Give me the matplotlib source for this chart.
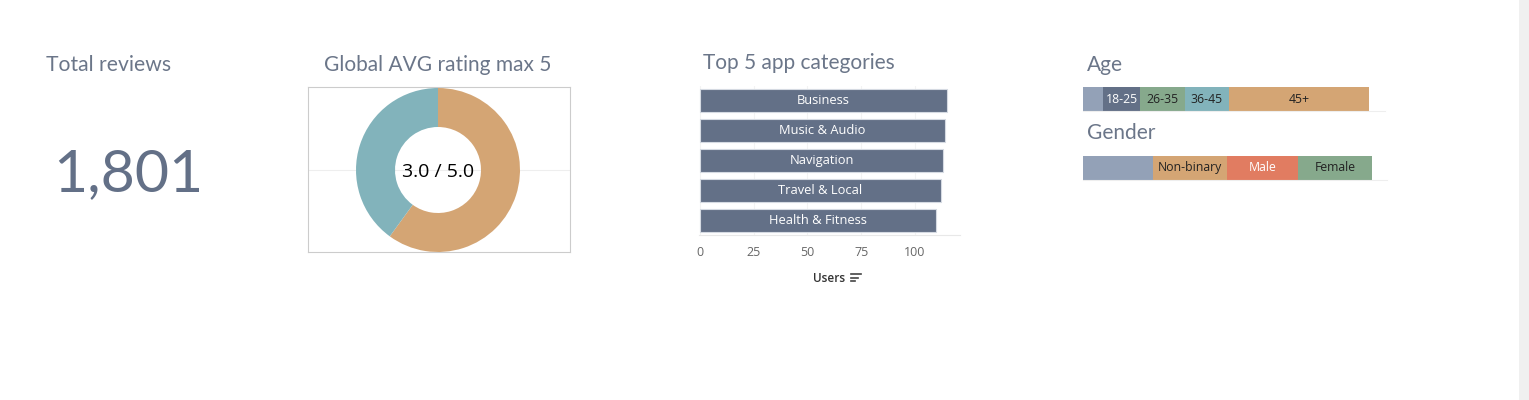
import numpy as np
import matplotlib
matplotlib.use("Agg")
import matplotlib.pyplot as plt
from matplotlib.patches import Rectangle

plt.rcParams["font.family"] = ["Open Sans", "DejaVu Sans"]

# --- data ---
total_reviews = 1801
rating_avg = 3.0
rating_max = 5.0

categories = ["Business", "Music & Audio", "Navigation", "Travel & Local", "Health & Fitness"]
category_users = [115, 114, 113, 112, 110]
user_ticks = [0, 25, 50, 75, 100]

age_groups = ["", "18-25", "26-35", "36-45", "45+"]
age_counts = [126, 233, 283, 277, 882]

gender_groups = ["", "Non-binary", "Male", "Female"]
gender_counts = [441, 466, 447, 466]
# ------------

W, H = 1529, 400
TITLE_C = "#6b7689"
SLATE = "#637087"
GREYBLUE = "#93a1b7"
GREEN = "#86a98c"
TEAL = "#82b3bb"
ORANGE = "#d4a574"
CORAL = "#e17c61"
TFONT = dict(family=["Lato", "Open Sans", "DejaVu Sans"], fontweight="normal")

fig = plt.figure(figsize=(W / 100, H / 100), dpi=100)
fig.patch.set_facecolor("white")


def px_axes(x0, y0, x1, y1):
    return fig.add_axes([x0 / W, 1 - y1 / H, (x1 - x0) / W, (y1 - y0) / H])


def ftext(x, y, s, **kw):
    fig.text(x / W, 1 - y / H, s, **kw)


# scrollbar strip on the right
fig.patches.append(Rectangle(((W - 10) / W, 0), 10 / W, 1, transform=fig.transFigure,
                             facecolor="#f0f0f0", edgecolor="none"))

# --- KPI ---
ftext(46, 65, "Total reviews", fontsize=15.2, color=TITLE_C, va="center", **TFONT)
ftext(128, 175, f"{total_reviews:,}", fontsize=42.5, color=SLATE, ha="center", va="center", **TFONT)

# --- donut ---
ftext(438, 65, "Global AVG rating max 5", fontsize=15, color=TITLE_C, ha="center", va="center", **TFONT)
box = px_axes(308, 87, 570, 252)
box.set_xticks([])
box.set_yticks([])
for s in box.spines.values():
    s.set_color("#cccccc")
    s.set_linewidth(0.8)
box.axhline(0.5, color="#eeeeee", lw=0.8)
box.set_xlim(0, 1)
box.set_ylim(0, 1)

pie_ax = px_axes(438 - 82, 170 - 82, 438 + 82, 170 + 82)
pie_ax.pie([rating_avg, rating_max - rating_avg], colors=[ORANGE, TEAL], startangle=90,
           counterclock=False, wedgeprops=dict(width=39 / 82, linewidth=0))
pie_ax.set_xlim(-1, 1)
pie_ax.set_ylim(-1, 1)
pie_ax.set_aspect("equal")
pie_ax.axis("off")
pie_ax.text(0, -0.02, f"{rating_avg:.1f} / {rating_max:.1f}", ha="center", va="center",
            fontsize=14, color="black")

# --- top categories ---
ftext(703, 63, "Top 5 app categories", fontsize=15, color=TITLE_C, va="center", **TFONT)
bx = px_axes(699, 86, 960, 235)
y = np.arange(len(categories))
bx.barh(y, category_users, height=0.77, color=SLATE, edgecolor="#d5dae2", linewidth=0.8, zorder=2)
for yi, name, v in zip(y, categories, category_users):
    bx.text(v / 2, yi, name, ha="center", va="center", color="white", fontsize=9.3, zorder=3)
bx.set_xlim(-0.5, 121)
bx.set_ylim(len(categories) - 0.517, -0.483)
bx.set_yticks([])
bx.set_xticks(user_ticks)
bx.tick_params(axis="x", length=0, pad=8, labelsize=9, labelcolor="#666666")
bx.grid(axis="x", color="#f3f3f3", lw=0.8, zorder=0)
for s in ["top", "right", "left"]:
    bx.spines[s].set_visible(False)
bx.spines["bottom"].set_color("#e8e8e8")
ftext(829, 279, "Users", fontsize=8.5, color="#333333", ha="center", va="center", fontweight="semibold")
for i, ln in enumerate([10, 7, 4]):
    fig.add_artist(plt.Line2D([851 / W, (851 + ln) / W], [1 - (274 + 3.5 * i) / H] * 2,
                              color="#444444", lw=1.2))


# --- stacked bars ---
PX_PER_UNIT = 286 / 1801


def stacked(y0, y1, x_right, groups, counts, colors, txtcolors):
    ax = px_axes(1083, y0, x_right, y1 + 1)
    left = 0
    for g, c, col, tc in zip(groups, counts, colors, txtcolors):
        ax.barh(0, c, left=left, height=1, color=col, linewidth=0)
        if g:
            ax.text(left + c / 2, 0, g, ha="center", va="center", color=tc, fontsize=8.8)
        left += c
    ax.set_xlim(0, (x_right - 1083) / PX_PER_UNIT)
    ax.set_ylim(-0.5, 0.5 + 1 / (y1 - y0))
    ax.set_xticks([])
    ax.set_yticks([])
    for s in ["top", "right", "left"]:
        ax.spines[s].set_visible(False)
    ax.spines["bottom"].set_color("#eeeeee")
    ax.set_facecolor("none")


ftext(1087, 65, "Age", fontsize=15, color=TITLE_C, va="center", **TFONT)
stacked(86, 110, 1385, age_groups, age_counts,
        [GREYBLUE, SLATE, GREEN, TEAL, ORANGE],
        ["white", "white", "#222222", "#222222", "#222222"])

ftext(1087, 133, "Gender", fontsize=15, color=TITLE_C, va="center", **TFONT)
stacked(155, 179, 1387, gender_groups, gender_counts,
        [GREYBLUE, ORANGE, CORAL, GREEN],
        ["white", "#222222", "white", "#222222"])

fig.savefig("out.png", dpi=100, facecolor="white")
